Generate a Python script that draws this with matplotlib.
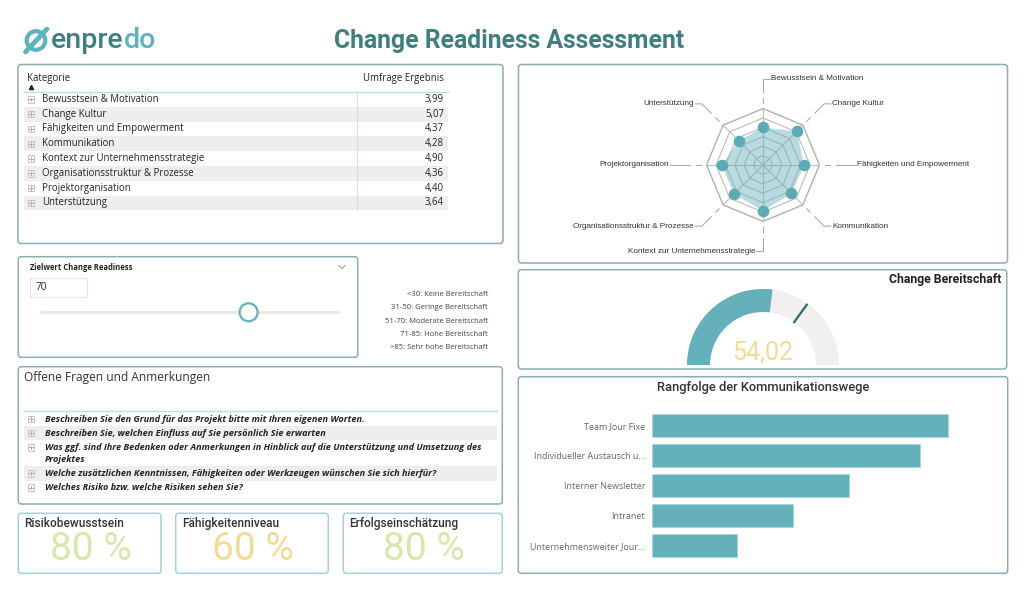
import matplotlib
matplotlib.use('Agg')
import matplotlib.pyplot as plt
from matplotlib.patches import FancyBboxPatch, Rectangle, Circle, Wedge, Polygon
import numpy as np

W, H = 1024, 590
fig = plt.figure(figsize=(W / 100, H / 100), dpi=100)
fig.patch.set_facecolor('white')

SANS = ['Open Sans', 'DejaVu Sans']
DIN = ['Roboto', 'DejaVu Sans']
ARIAL = ['Liberation Sans', 'DejaVu Sans']

# ---------------- data ----------------
title = 'Change Readiness Assessment'
categories = ['Bewusstsein & Motivation', 'Change Kultur', 'Fähigkeiten und Empowerment',
              'Kommunikation', 'Kontext zur Unternehmensstrategie',
              'Organisationsstruktur & Prozesse', 'Projektorganisation', 'Unterstützung']
scores = [3.99, 5.07, 4.37, 4.28, 4.90, 4.36, 4.40, 3.64]
radar_max = 6

slider_value = 70
slider_max = 100
legend_lines = ['<30: Keine Bereitschaft', '31-50: Geringe Bereitschaft',
                '51-70: Moderate Bereitschaft', '71-85: Hohe Bereitschaft',
                '>85: Sehr hohe Bereitschaft']

gauge_value = 54.02
gauge_target = 70
gauge_max = 100

questions = ['Beschreiben Sie den Grund für das Projekt bitte mit Ihren eigenen Worten.',
             'Beschreiben Sie, welchen Einfluss auf Sie persönlich Sie erwarten',
             'Was ggf. sind Ihre Bedenken oder Anmerkungen in Hinblick auf die Unterstützung und Umsetzung des\nProjektes',
             'Welche zusätzlichen Kenntnissen, Fähigkeiten oder Werkzeugen wünschen Sie sich hierfür?',
             'Welches Risiko bzw. welche Risiken sehen Sie?']

bar_labels = ['Team Jour Fixe', 'Individueller Austausch u...', 'Interner Newsletter',
              'Intranet', 'Unternehmensweiter Jour...']
bar_values = [21, 19, 14, 10, 6]

kpi_titles = ['Risikobewusstsein', 'Fähigkeitenniveau', 'Erfolgseinschätzung']
kpi_values = [80, 60, 80]

# ---------------- colours ----------------
TEAL = '#64b0bb'
DARK_TEAL = '#3e7f82'
PANEL_EC = '#8aaeb2'
CARD_EC = '#9fd2d9'
LINE_TEAL = '#b9dfe4'
TXT = '#252423'
GREEN = '#d5e9aa'
YELLOW = '#f0dc94'
ROW_BG = '#eeeeee'

# ---------------- overlay axes in pixel coordinates ----------------
ov = fig.add_axes([0, 0, 1, 1], zorder=0)
ov.set_xlim(0, W)
ov.set_ylim(H, 0)
ov.axis('off')


def panel(x0, y0, x1, y1, ec=PANEL_EC):
    ov.add_patch(FancyBboxPatch((x0, y0), x1 - x0, y1 - y0,
                                boxstyle='round,pad=0,rounding_size=3',
                                fc='white', ec=ec, lw=1.1))


def plus_icon(x, y):
    s = 3.2
    ov.add_patch(Rectangle((x - s, y - s), 2 * s, 2 * s, fc='none', ec='#c4c4c4', lw=0.7))
    ov.plot([x - 1.8, x + 1.8], [y, y], color='#b0b0b0', lw=0.7)
    ov.plot([x, x], [y - 1.8, y + 1.8], color='#b0b0b0', lw=0.7)


def px_axes(x0, y0, x1, y1):
    a = fig.add_axes([x0 / W, 1 - y1 / H, (x1 - x0) / W, (y1 - y0) / H], zorder=2)
    a.patch.set_alpha(0)
    return a


# ---------------- header: logo + title ----------------
ov.add_patch(Circle((36, 40.5), 9.3, fc='none', ec='#5ab3c0', lw=3.0))
ov.plot([25.5, 47], [52, 29], color='#5ab3c0', lw=3.4, solid_capstyle='round')
t1 = ov.text(51, 48, 'enpre', family=DIN, fontsize=20.5, fontweight='medium',
             color=DARK_TEAL, ha='left', va='baseline')
renderer = fig.canvas.get_renderer()
bb = t1.get_window_extent(renderer=renderer)
x_end = ov.transData.inverted().transform((bb.x1, bb.y0))[0]
ov.text(x_end, 48, 'do', family=DIN, fontsize=20.5, fontweight='medium', color='#5ab3c0',
        ha='left', va='baseline')

ov.text(509, 41, title, family=DIN, fontsize=17.8, fontweight='bold',
        color='#3f7f80', ha='center', va='center')

# ---------------- table panel ----------------
panel(18, 64.5, 503, 243.5)
ov.text(27, 78, 'Kategorie', family=SANS, fontsize=6.9, color=TXT, va='center')
ov.plot([31], [86.5], marker='^', ms=3, color='#222', lw=0)
ov.text(444, 78, 'Umfrage Ergebnis', family=SANS, fontsize=6.9, color=TXT,
        va='center', ha='right')
row_h = 14.8
row_top = 92
ov.plot([24, 448], [row_top - 0.5, row_top - 0.5], color=LINE_TEAL, lw=1)
for i, (c, s) in enumerate(zip(categories, scores)):
    y0 = row_top + i * row_h
    yc = y0 + row_h / 2
    if i % 2 == 1:
        ov.add_patch(Rectangle((24, y0), 424, row_h, fc=ROW_BG, ec='none'))
    plus_icon(31, yc)
    ov.text(42, yc, c, family=SANS, fontsize=6.9, color=TXT, va='center')
    ov.text(444, yc, f'{s:.2f}'.replace('.', ','), family=SANS, fontsize=6.9,
            color=TXT, va='center', ha='right')
ov.plot([357, 357], [row_top, row_top + len(categories) * row_h], color='#c9e2e5', lw=0.8)

# ---------------- radar panel ----------------
panel(518.5, 64.5, 1007.5, 263)
cx, cy, scale = 763, 165, 9.4
rax = px_axes(583, 66, 943, 262)
rax.set_xlim((583 - cx) / scale, (943 - cx) / scale)
rax.set_ylim(-(262 - cy) / scale, (cy - 66) / scale)
rax.axis('off')
n = len(categories)
ang = np.arange(n) * 2 * np.pi / n
ux, uy = np.sin(ang), np.cos(ang)
GRID = '#bdbdbd'
for r in range(1, radar_max + 1):
    rax.plot(np.append(r * ux, r * ux[0]), np.append(r * uy, r * uy[0]),
             color=GRID if r < radar_max else '#b0b0b0', lw=0.8 if r < radar_max else 1.0,
             zorder=1)
elbow_r = 9.2
for i in range(n):
    rax.plot([0, radar_max * ux[i]], [0, radar_max * uy[i]], color=GRID, lw=0.8, zorder=1)
    rax.plot([6.6 * ux[i], 7.1 * ux[i]], [6.6 * uy[i], 7.1 * uy[i]], color='#aaaaaa', lw=0.8)
    ex, ey = elbow_r * ux[i], elbow_r * uy[i]
    side = 1 if (0 <= i <= 3) else -1
    rax.plot([7.8 * ux[i], ex, ex + side * 0.7], [7.8 * uy[i], ey, ey],
             color='#aaaaaa', lw=0.8)
    rax.text(ex + side * 0.85, ey, categories[i], family=ARIAL, fontsize=5.9,
             color='#333333', ha='left' if side > 0 else 'right', va='center')
vals = np.array(scores)
rax.add_patch(Polygon(np.column_stack([vals * ux, vals * uy]), closed=True,
                      fc=TEAL, alpha=0.45, ec='none', zorder=2))
rax.plot(vals * ux, vals * uy, 'o', ms=7.3, color='#5aabb6', zorder=3)

# ---------------- slider panel ----------------
panel(18.3, 256.7, 357.7, 357.3)
ov.text(30, 267, 'Zielwert Change Readiness', family=SANS, fontsize=5.5,
        fontweight='bold', color=TXT, va='center')
ov.plot([339, 342, 345], [265.5, 268.5, 265.5], color='#a0a0a0', lw=0.8)
ov.add_patch(Rectangle((30, 278), 57, 19, fc='white', ec='#e3e3e3', lw=0.8))
ov.text(36, 288, str(slider_value), family=SANS, fontsize=7.3, color=TXT, va='center')
track_x0, track_x1 = 40, 338
ov.plot([track_x0, track_x1], [312.3, 312.3], color='#e8e8e8', lw=2, solid_capstyle='round')
knob_x = track_x0 + (track_x1 - track_x0) * slider_value / slider_max
ov.add_patch(Circle((knob_x, 312.3), 9, fc='white', ec=TEAL, lw=1.6, zorder=5))
for k, line in enumerate(legend_lines):
    ov.text(488, 294.5 + k * 13.3, line, family=SANS, fontsize=5.5, color='#444444',
            ha='right', va='center')

# ---------------- gauge panel ----------------
panel(518.3, 269.7, 1006.7, 369)
ov.text(1001, 280, 'Change Bereitschaft', family=DIN, fontsize=8.8, fontweight='bold',
        color='#222222', ha='right', va='center')
gax = px_axes(687, 289, 839, 365)
gax.set_xlim(-1, 1)
gax.set_ylim(0, 1)
gax.axis('off')
inner = 53 / 76
gax.add_patch(Wedge((0, 0), 1, 0, 180, width=1 - inner, fc='#f1f0ee', ec='none', clip_on=False))
theta_v = 180 - 180 * gauge_value / gauge_max
gax.add_patch(Wedge((0, 0), 1, theta_v, 180, width=1 - inner, fc=TEAL, ec='none', clip_on=False))
theta_t = np.deg2rad(180 - 180 * gauge_target / gauge_max)
gax.plot([inner * np.cos(theta_t), 0.98 * np.cos(theta_t)],
         [inner * np.sin(theta_t), 0.98 * np.sin(theta_t)], color='#2f6b6e', lw=1.6,
         clip_on=False)
gax.text(0, 0.17, f'{gauge_value:.2f}'.replace('.', ','), family=DIN, fontsize=18,
         color=YELLOW, ha='center', va='center')

# ---------------- open questions panel ----------------
panel(18.3, 366.7, 502.3, 504)
ov.text(24, 377.5, 'Offene Fragen und Anmerkungen', family=SANS, fontsize=8.6,
        color='#333333', va='center')
ov.plot([24, 497], [410.7, 410.7], color=LINE_TEAL, lw=1)
q_y = 412
for i, q in enumerate(questions):
    parts = q.split('\n')
    h = 14.2 if len(parts) == 1 else 26
    if i % 2 == 1:
        ov.add_patch(Rectangle((24, q_y), 473, h, fc=ROW_BG, ec='none'))
    plus_icon(31, q_y + 7)
    for j, part in enumerate(parts):
        ov.text(45, q_y + 7 + j * 12.6, part, family=SANS, fontsize=6.6,
                fontweight='bold', fontstyle='italic', color=TXT, va='center')
    q_y += h

# ---------------- bar panel ----------------
panel(518.3, 376.7, 1007.7, 573.3)
ov.text(763.5, 387, 'Rangfolge der Kommunikationswege', family=DIN, fontsize=9.3,
        fontweight='medium', color='#333333', ha='center', va='center')
bax = px_axes(652, 410.5, 990, 560.5)
ypos = np.arange(len(bar_labels))
bax.barh(ypos, bar_values, height=0.76, color=TEAL, edgecolor='#a9d6dc', lw=0.6)
bax.set_xlim(0, 24)
bax.set_ylim(len(bar_labels) - 0.5, -0.5)
bax.set_yticks(ypos)
bax.set_yticklabels(bar_labels, family=SANS, fontsize=6.4, color='#666666')
bax.tick_params(axis='y', length=0, pad=5)
bax.set_xticks([])
for s in bax.spines.values():
    s.set_visible(False)

# ---------------- KPI cards ----------------
cards = [(18.3, 161), (175.7, 328.3), (343.3, 502.3)]
for (x0, x1), t, v in zip(cards, kpi_titles, kpi_values):
    panel(x0, 513.3, x1, 573.3, ec=CARD_EC)
    ov.text(x0 + 6, 523.5, t, family=DIN, fontsize=8.6, fontweight='medium',
            color='#333333', va='center')
    ov.text((x0 + x1) / 2 + 1, 549, f'{v} %', family=DIN, fontsize=28,
            color=GREEN if v >= 70 else YELLOW, ha='center', va='center')

fig.savefig('out.png', dpi=100, facecolor='white')
